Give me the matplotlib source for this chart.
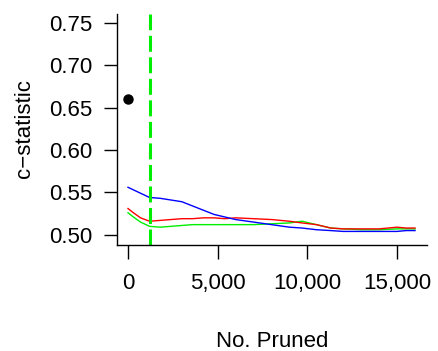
import matplotlib
matplotlib.use("Agg")
import matplotlib.pyplot as plt

plt.rcParams['font.family'] = ['Liberation Sans', 'DejaVu Sans']

x_pruned = [0, 300, 700, 1200, 1800, 2400, 3000, 3600, 4200, 4800, 5400, 6000,
            7000, 8000, 9000, 9700, 10500, 11300, 12000, 13000, 14000, 15000, 15500, 16000]
blue_vals = [0.556, 0.553, 0.549, 0.544, 0.543, 0.541, 0.539, 0.534, 0.529, 0.524, 0.521, 0.518,
             0.515, 0.512, 0.509, 0.508, 0.506, 0.505, 0.504, 0.504, 0.504, 0.504, 0.505, 0.505]
red_vals = [0.531, 0.526, 0.520, 0.516, 0.517, 0.518, 0.519, 0.519, 0.520, 0.520, 0.519, 0.520,
            0.519, 0.518, 0.516, 0.514, 0.512, 0.508, 0.507, 0.507, 0.507, 0.509, 0.508, 0.508]
green_vals = [0.526, 0.521, 0.515, 0.510, 0.509, 0.510, 0.511, 0.512, 0.512, 0.512, 0.512, 0.512,
              0.512, 0.513, 0.514, 0.516, 0.512, 0.508, 0.507, 0.506, 0.506, 0.507, 0.507, 0.507]
point_x = [0]
point_y = [0.66]
cutoff_x = 1250
yticks = [0.50, 0.55, 0.60, 0.65, 0.70, 0.75]
ytick_labels = ["0.50", "0.55", "0.60", "0.65", "0.70", "0.75"]
xticks = [0, 5000, 10000, 15000]
xtick_labels = ["0", "5,000", "10,000", "15,000"]

FS = 16

fig = plt.figure(figsize=(4.38, 3.51), dpi=100)
ax = fig.add_axes([117/438, 1-245/351, 310/438, 231/351])

ax.plot(x_pruned, green_vals, color='#00ee00', lw=1.0)
ax.plot(x_pruned, red_vals, color='#ff0000', lw=1.0)
ax.plot(x_pruned, blue_vals, color='#0000ff', lw=1.0)
ax.plot(point_x, point_y, 'o', color='black', ms=6.5)

ax.axvline(cutoff_x, color='#ff0000', lw=1.5, linestyle=(19.5, (2.0, 29.0)))
ax.axvline(cutoff_x, color='#00ee00', lw=2.2, linestyle=(0, (11.5/2.2, 4.0/2.2)))

ax.set_xlim(-613, 16667)
ax.set_ylim(0.488, 0.7602)
ax.set_yticks(yticks)
ax.set_yticklabels(ytick_labels)
ax.set_xticks(xticks)
ax.set_xticklabels(xtick_labels)
for s in ['top', 'right']:
    ax.spines[s].set_visible(False)
for s in ['left', 'bottom']:
    ax.spines[s].set_linewidth(1.0)
ax.tick_params(axis='y', length=9.5, width=1.0, pad=8, labelsize=FS, direction='out')
ax.tick_params(axis='x', length=10, width=1.0, pad=10.5, labelsize=FS, direction='out')

fig.text(24.4/438, 1-128/351, "c\u2212statistic", rotation=90, ha='center', va='center', fontsize=FS)
fig.text(271.7/438, 1-346.7/351, "No. Pruned", ha='center', va='baseline', fontsize=FS)

fig.savefig("out.png", dpi=100)
